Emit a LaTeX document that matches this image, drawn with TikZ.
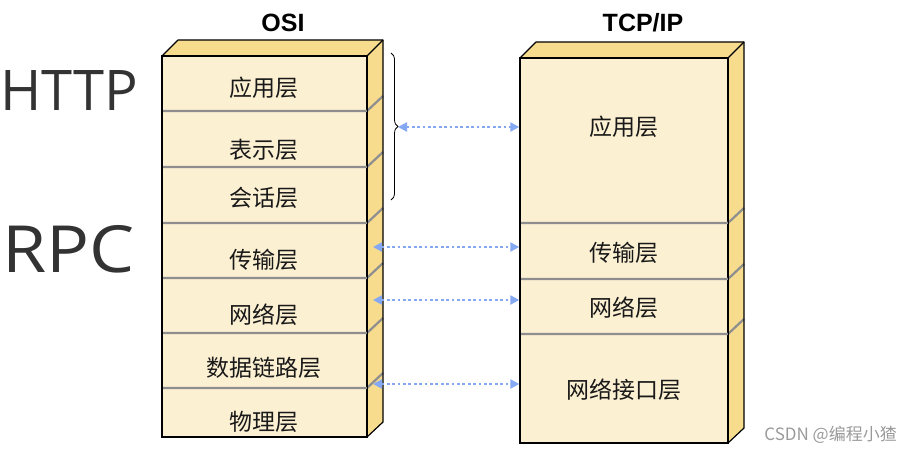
\documentclass[tikz,border=0pt]{standalone}
\usepackage{fontspec}
\setmainfont{Liberation Sans}
\newfontfamily\cjk{Noto Sans CJK SC}
\newfontfamily\bigsans{Open Sans}
\usetikzlibrary{arrows.meta,decorations.pathreplacing}

\definecolor{frontc}{HTML}{FCF0D3}
\definecolor{sidec}{HTML}{F7DC8E}
\definecolor{sepc}{HTML}{8E8E8E}
\definecolor{linkc}{HTML}{85A8F2}
\definecolor{bigtext}{HTML}{333333}
\definecolor{markc}{HTML}{9A9A9A}

\tikzset{
  frontface/.style={rectangle, fill=frontc, draw=black, line width=1.4pt, inner sep=0pt},
  sideface/.style={fill=sidec},
  edge/.style={draw=black, line width=1.2pt, line join=round},
  sepline/.style={draw=sepc, line width=2.2pt},
  layertext/.style={font=\cjk\fontsize{23}{23}\selectfont, text=black!90, inner sep=0pt},
  title/.style={font=\bfseries\fontsize{25}{25}\selectfont, inner sep=0pt},
  protocol/.style={font=\bigsans, text=bigtext, inner sep=0pt, anchor=base west},
  link/.style={linkc, line width=2.8pt, dash pattern=on 2.8pt off 2.6pt,
    {Triangle[length=9pt,width=9pt]}-{Triangle[length=9pt,width=9pt]}},
  groupbrace/.style={draw=black, line width=0.8pt, decorate, decoration={brace, amplitude=7pt}}
}

\begin{document}
\begin{tikzpicture}[x=1pt,y=-1pt]
\useasboundingbox (0,0) rectangle (912,452);

% ---------- OSI stack ----------
\fill[sideface] (367,56) -- (383,40) -- (383,422) -- (367,437) -- cycle;
\fill[sideface] (162,56) -- (178,40) -- (383,40) -- (367,56) -- cycle;
\node[frontface, minimum width=205pt, minimum height=381pt] (osi) at (264.5,246.5) {};
\foreach \y in {111,167,223,278,333,388}
  \draw[sepline] (163,\y) -- (367,\y) -- (383,\y-15);
\draw[edge] (162,56) -- (178,40) -- (383,40) -- (383,422) -- (367,437);
\draw[edge] (367,56) -- (383,40);
\draw[black, line width=1.4pt] (osi.north west) rectangle (osi.south east);

\node[title] (osititle) at (283,23) {OSI};
\node[layertext] (o7) at (264,88)  {应用层};
\node[layertext] (o6) at (264,150) {表示层};
\node[layertext] (o5) at (264,198) {会话层};
\node[layertext] (o4) at (264,260) {传输层};
\node[layertext] (o3) at (264,315) {网络层};
\node[layertext] (o2) at (264,368) {数据链路层};
\node[layertext] (o1) at (264,422) {物理层};

% ---------- TCP/IP stack ----------
\fill[sideface] (728,58) -- (744,42) -- (744,428) -- (728,443) -- cycle;
\fill[sideface] (520,58) -- (536,42) -- (744,42) -- (728,58) -- cycle;
\node[frontface, minimum width=208pt, minimum height=385pt] (tcp) at (624,250.5) {};
\foreach \y in {223,279,334}
  \draw[sepline] (521,\y) -- (728,\y) -- (744,\y-15);
\draw[edge] (520,58) -- (536,42) -- (744,42) -- (744,428) -- (728,443);
\draw[edge] (728,58) -- (744,42);
\draw[black, line width=1.4pt] (tcp.north west) rectangle (tcp.south east);

\node[title] (tcptitle) at (643,23) {TCP/IP};
\node[layertext] (t4) at (624,127) {应用层};
\node[layertext] (t3) at (624,253) {传输层};
\node[layertext] (t2) at (624,308) {网络层};
\node[layertext] (t1) at (624,390) {网络接口层};

% ---------- correspondences ----------
\coordinate (bracetop) at (391,53);
\coordinate (bracebot) at (391,200);
\draw[groupbrace] (bracetop) -- (bracebot);

\coordinate (appL) at (398,127);
\coordinate (appR) at (tcp.west |- appL);
\coordinate (trL) at (373,247);
\coordinate (trR) at (tcp.west |- trL);
\coordinate (netL) at (373,300);
\coordinate (netR) at (tcp.west |- netL);
\coordinate (linkL) at (373,384);
\coordinate (linkR) at (tcp.west |- linkL);
\draw[link] (appL) -- (appR);
\draw[link] (trL) -- (trR);
\draw[link] (netL) -- (netR);
\draw[link] (linkL) -- (linkR);

% ---------- protocol labels ----------
\node[protocol, font=\bigsans\fontsize{56}{56}\selectfont] (http) at (0,110) {HTTP};
\node[protocol, font=\bigsans\fontsize{65}{65}\selectfont, xscale=1.1, transform shape] (rpc) at (2,272) {RPC};

\node[font=\cjk\fontsize{17}{17}\selectfont, text=markc, anchor=base east, inner sep=0pt] (mark) at (897,440) {CSDN @编程小猹};
\end{tikzpicture}
\end{document}
